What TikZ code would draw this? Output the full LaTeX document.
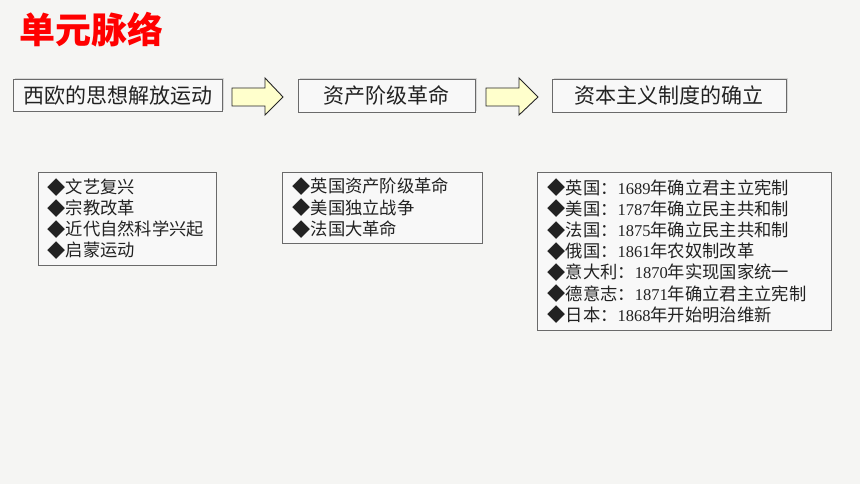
\documentclass[tikz,border=0pt]{standalone}
\usepackage{fontspec}
\usepackage{graphicx}
\setmainfont{Noto Sans CJK SC}
\newfontfamily\numfont{Liberation Serif}
\usetikzlibrary{shadows}
\definecolor{bg}{HTML}{F5F5F3}
\definecolor{boxfill}{HTML}{F8F8F8}
\definecolor{boxline}{HTML}{6A6A6A}
\definecolor{arrowfill}{HTML}{FFFFCC}
\definecolor{titlered}{HTML}{FF0000}
\definecolor{txt}{HTML}{222222}
\newcommand{\dg}[1]{{\fontsize{16.5}{21}\numfont #1}}
\newcommand{\dia}{\makebox[1.0em][l]{\hspace{-0.05em}\raisebox{-0.04em}{\resizebox{1.05em}{!}{◆}}}}
\tikzset{
  headbox/.style={draw=boxline, line width=0.8pt, fill=boxfill, anchor=north west,
    inner sep=0pt, font=\fontsize{21}{25}\selectfont, text=txt,
    drop shadow={opacity=0.25, shadow xshift=1.2pt, shadow yshift=1.2pt}},
  listbox/.style={draw=boxline, line width=0.8pt, fill=boxfill, anchor=north west,
    inner xsep=10pt, inner ysep=0pt, align=left, font=\fontsize{17.3}{21.2}\selectfont, text=txt},
  blockarrow/.style={draw=black!85, line width=0.9pt, fill=arrowfill, line join=miter}
}
\begin{document}
\begin{tikzpicture}[x=1pt,y=-1pt]
\fill[bg] (0,0) rectangle (860,484);
\useasboundingbox (0,0) rectangle (860,484);

\node[anchor=west, inner sep=0pt, text=titlered, font=\fontsize{36}{42}\selectfont\bfseries] (title) at (19,30) {单元脉络};

\node[headbox, minimum width=209pt, minimum height=32pt] (h1) at (13,79) {西欧的思想解放运动};
\node[headbox, minimum width=177pt, minimum height=33pt] (h2) at (298,79) {资产阶级革命};
\node[headbox, minimum width=234pt, minimum height=33pt] (h3) at (552,79) {资本主义制度的确立};

% block arrows
\draw[blockarrow] (232,88) -- (265,88) -- (265,78) -- (283,97) -- (265,115) -- (265,106) -- (232,106) -- cycle;
\draw[blockarrow] (486,88) -- (519,88) -- (519,78) -- (538,97) -- (519,115) -- (519,106) -- (486,106) -- cycle;

\node[listbox, minimum width=178pt, minimum height=93pt, text width=158pt] (l1) at (38,172)
 {\dia 文艺复兴\\\dia 宗教改革\\\dia 近代自然科学兴起\\\dia 启蒙运动};
\node[listbox, minimum width=200pt, minimum height=71pt, text width=178pt, inner xsep=11pt] (l2) at (282,172)
 {\dia 英国资产阶级革命\\\dia 美国独立战争\\\dia 法国大革命};
\node[listbox, minimum width=294pt, minimum height=158pt, text width=272pt, inner xsep=11pt] (l3) at (537,172)
 {\dia 英国：\dg{1689}年确立君主立宪制\\
  \dia 美国：\dg{1787}年确立民主共和制\\
  \dia 法国：\dg{1875}年确立民主共和制\\
  \dia 俄国：\dg{1861}年农奴制改革\\
  \dia 意大利：\dg{1870}年实现国家统一\\
  \dia 德意志：\dg{1871}年确立君主立宪制\\
  \dia 日本：\dg{1868}年开始明治维新};
\end{tikzpicture}
\end{document}
